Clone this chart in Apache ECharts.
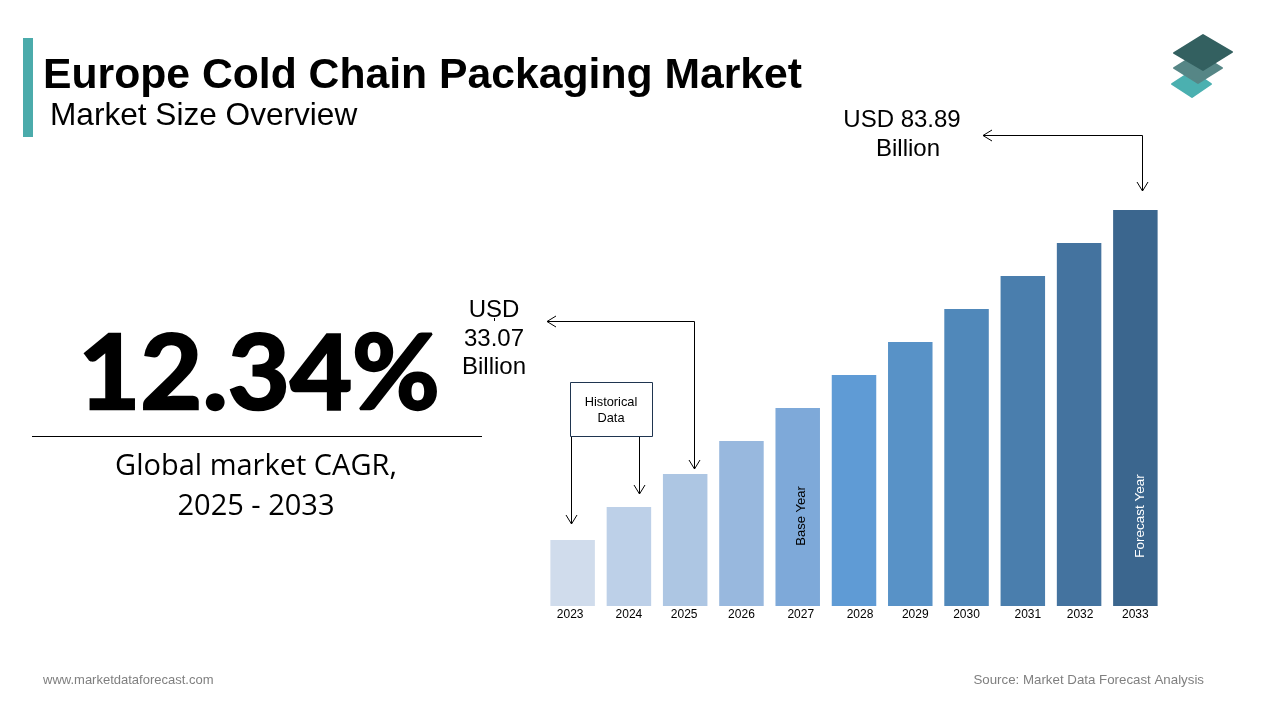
<!DOCTYPE html>
<html><head><meta charset="utf-8">
<style>html,body{margin:0;padding:0;background:#fff}#c{width:1280px;height:720px}</style>
<script src="https://cdn.jsdelivr.net/npm/echarts@6/dist/echarts.min.js"></script>
</head><body><div id="c"></div>
<script>
const categories=['2023','2024','2025','2026','2027','2028','2029','2030','2031','2032','2033'];
const barValues=[10,15,20,25,30,35,40,45,50,55,60];
const barColors=['#D0DCEC','#BDD0E8','#ADC6E3','#98B8DE','#7EA9D9','#5F9BD5','#5892C7','#5088BA','#4A7EAD','#44739F','#3B668E'];
const labelShift=[-5,0,-2,0,6,12,10,0,10,2,0];
const SANS='"Liberation Sans",Arial,sans-serif', OPEN='"Open Sans",sans-serif';
const rich={};
labelShift.forEach((s,i)=>{rich['t'+i]={fontFamily:SANS,fontSize:12,color:'#000',
  padding:s>=0?[0,0,0,s]:[0,-s,0,0]};});
function txt(x,y,text,size,opt){opt=opt||{};return {type:'text',z:10,x:x,y:y,style:Object.assign({
  text:text,fontFamily:opt.family||SANS,fontSize:size,fontWeight:opt.weight||'normal',fill:opt.fill||'#000',
  textAlign:opt.align||'left',textVerticalAlign:'middle'},opt.stroke?{stroke:'#000',lineWidth:opt.stroke}:{}),scaleX:opt.sx||1};}
function line(points,color,w){return {type:'polyline',z:9,shape:{points:points},style:{stroke:color||'#000',lineWidth:w||1,fill:null}};}
function head(x,y,dir){const s=9;
  if(dir==='down')return line([[x-5.5,y-s],[x,y],[x+5.5,y-s]]);
  return line([[x+s,y-5.5],[x,y],[x+s,y+5.5]]);}
function poly(points,color){return {type:'polygon',z:8,shape:{points:points},style:{fill:color,stroke:color,lineWidth:2,lineJoin:'round'}};}
const chart=echarts.init(document.getElementById('c'));
chart.setOption({
  animation:false,backgroundColor:'#fff',
  grid:{left:544.5,top:210,width:619,height:396,containLabel:false},
  xAxis:{type:'category',data:categories,axisLine:{show:false},axisTick:{show:false},
    axisLabel:{interval:0,margin:3,formatter:(v,i)=>'{t'+i+'|'+v+'}',rich:rich}},
  yAxis:{type:'value',min:0,max:60,show:false,splitLine:{show:false}},
  series:[{type:'bar',barWidth:44.5,
    data:barValues.map((v,i)=>{
      const d={value:v,itemStyle:{color:barColors[i]}};
      if(categories[i]==='2027')d.label={show:true,formatter:'Base Year',position:'inside',rotate:90,offset:[-9,3.5],color:'#000',fontFamily:SANS,fontSize:13};
      if(categories[i]==='2033')d.label={show:true,formatter:'Forecast Year',position:'inside',rotate:90,offset:[-108,4.5],color:'#fff',fontFamily:SANS,fontSize:13.5};
      return d;})}],
  graphic:[
    {type:'rect',z:5,shape:{x:23,y:38,width:10,height:99},style:{fill:'#4BABAB'}},
    txt(43,76,'Europe Cold Chain Packaging Market',42.7,{weight:'bold'}),
    txt(50,116,'Market Size Overview',31.6),
    poly([[1192,71],[1211,84],[1192,97],[1172,84]],'#4BB0B0'),
    poly([[1198,53],[1222,68],[1198,83],[1174,68]],'#568686'),
    poly([[1203,35],[1232,52],[1203,70],[1174,53]],'#336060'),
    txt(259,375,'12.34%',104,{family:'Lato',weight:'bold',align:'center',stroke:2.5,sx:1.03}),
    line([[32,436.5],[482,436.5]],'#000',1),
    txt(256,466.5,'Global market CAGR,',29,{family:OPEN,align:'center'}),
    txt(256,506.5,'2025 - 2033',29,{family:OPEN,align:'center'}),
    txt(902,120,'USD 83.89',24,{align:'center'}),
    txt(908,149,'Billion',24,{align:'center'}),
    line([[983,135.5],[1142.5,135.5],[1142.5,191]]),head(983,135.5,'left'),head(1142.5,191,'down'),
    txt(494,310,'USD',24,{align:'center'}),
    line([[494.5,318],[494.5,321]]),
    txt(494,339,'33.07',24,{align:'center'}),
    txt(494,367,'Billion',24,{align:'center'}),
    line([[547,321.5],[694.5,321.5],[694.5,469]]),head(547,321.5,'left'),head(694.5,469,'down'),
    {type:'rect',z:9,shape:{x:570.5,y:382.5,width:82,height:54},style:{fill:'#fff',stroke:'#1F3550',lineWidth:1}},
    txt(611,402,'Historical',12.8,{align:'center'}),
    txt(611,418,'Data',12.8,{align:'center'}),
    line([[571.5,437],[571.5,524]]),head(571.5,524,'down'),
    line([[639.5,437],[639.5,494]]),head(639.5,494,'down'),
    txt(43,680,'www.marketdataforecast.com',13,{fill:'#7F7F7F'}),
    txt(1204,680,'Source: Market Data Forecast Analysis',13.3,{fill:'#7F7F7F',align:'right'})
  ]
});
</script></body></html>
